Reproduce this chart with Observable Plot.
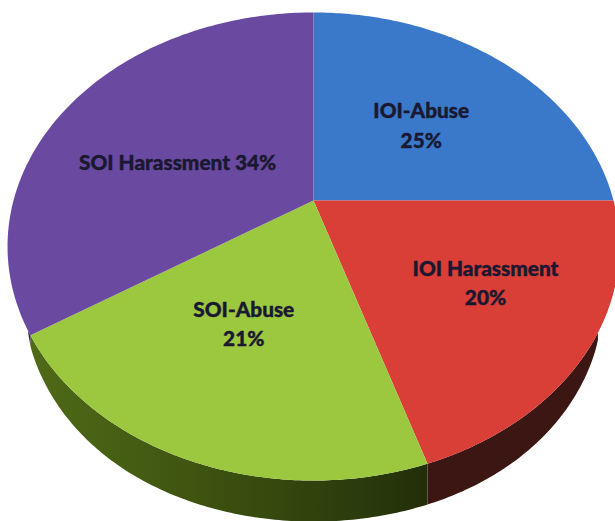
<!DOCTYPE html>
<html>
<head>
<meta charset="utf-8">
<script src="https://cdn.jsdelivr.net/npm/d3@7"></script>
<script src="https://cdn.jsdelivr.net/npm/@observablehq/plot@0.6"></script>
<style>
  html, body { margin: 0; padding: 0; background: #fff; }
  svg { display: block; }
</style>
</head>
<body>
<div id="chart"></div>
<script>
// Complaint categories and their share of the total, clockwise from twelve o'clock.
const categories = ["IOI-Abuse", "IOI Harassment", "SOI-Abuse", "SOI Harassment"];
const shares = [25, 20, 21, 34];
const labelBreaks = ["\n", "\n", "\n", " "];
const faceColors = ["#3a78ca", "#d93e37", "#9cc840", "#6a4aa0"];
const wallColors = ["#1b3a66", "#3b1613", "url(#wall-green)", "#352550"];

// Viewing geometry: the disc is a unit circle seen in perspective.
const width = 615, height = 521;
const centerX = 313, centerY = 200;
const radiusX = 300, radiusY = 225;
const tilt = 0.1966;
const wallDepth = 41;
const wallStart = 0.52;

const project = (u, v) => {
  const w = 1 + tilt * v;
  return { x: u / w, y: (radiusY / radiusX) * v / w };
};

// Wall height tapers to nothing where the rim turns out of view.
const wallDrop = (v) => {
  const t = Math.max(0, (-v - wallStart) / (1 - wallStart));
  return (wallDepth / radiusX) * Math.sqrt(1 - (1 - t) * (1 - t));
};

const total = d3.sum(shares);
const turns = d3.cumsum(shares).map((c) => c / total);
const slices = categories.map((category, i) => ({
  category,
  start: (i ? turns[i - 1] : 0) * 2 * Math.PI,
  end: turns[i] * 2 * Math.PI,
  mid: ((i ? turns[i - 1] : 0) + turns[i]) * Math.PI
}));

const arc = (s, n = 120) =>
  d3.range(n + 1).map((k) => {
    const a = s.start + ((s.end - s.start) * k) / n;
    return { u: Math.sin(a), v: Math.cos(a) };
  });

const faces = slices.flatMap((s) => [
  { category: s.category, ...project(0, 0) },
  ...arc(s).map(({ u, v }) => ({ category: s.category, ...project(u, v) }))
]);

const walls = slices.flatMap((s) => {
  const rim = arc(s).filter(({ v }) => -v >= wallStart);
  if (!rim.length) return [];
  const upper = rim.map(({ u, v }) => ({ category: s.category, ...project(u, v) }));
  const lower = rim
    .map(({ u, v }) => {
      const p = project(u, v);
      return { category: s.category, x: p.x, y: p.y - wallDrop(v) };
    })
    .reverse();
  return [...upper, ...lower];
});

// Label anchors sit on the disc, set by reach from the centre and a small turn off the mid-angle.
const labelReach = { "IOI-Abuse": 0.52, "IOI Harassment": 0.637, "SOI-Abuse": 0.543, "SOI Harassment": 0.498 };
const labelTurn = { "IOI-Abuse": 2.6, "IOI Harassment": -3, "SOI-Abuse": 2.9, "SOI Harassment": -8.8 };
const labels = slices.map((s, i) => {
  const a = s.mid + (labelTurn[s.category] * Math.PI) / 180;
  const r = labelReach[s.category];
  return {
    ...project(r * Math.sin(a), r * Math.cos(a)),
    text: `${s.category}${labelBreaks[i]}${shares[i]}%`
  };
});

const wallGradients = () => {
  const defs = d3.create("svg:defs");
  const g = defs.append("linearGradient").attr("id", "wall-green")
    .attr("x1", 0).attr("x2", 1).attr("y1", 0).attr("y2", 0);
  [[0, "#4f6a18"], [0.4, "#3f5510"], [0.85, "#2a3a0c"], [1, "#222e08"]]
    .forEach(([o, c]) => g.append("stop").attr("offset", o).attr("stop-color", c));
  return defs.node();
};

const chart = Plot.plot({
  width, height,
  margin: 0,
  x: { domain: [-centerX / radiusX, (width - centerX) / radiusX], axis: null },
  y: { domain: [(centerY - height) / radiusX, centerY / radiusX], axis: null },
  color: { domain: categories, range: faceColors },
  marks: [
    wallGradients,
    ...categories.map((c, i) =>
      Plot.line(walls.filter((d) => d.category === c), { x: "x", y: "y", stroke: "none", fill: wallColors[i] })
    ),
    Plot.line(faces, { x: "x", y: "y", z: "category", fill: "category", stroke: "none" }),
    Plot.text(labels, {
      x: "x", y: "y", text: "text",
      dy: -3,
      fontFamily: "Lato, 'Open Sans', sans-serif",
      fontWeight: 900,
      fontSize: 20.8,
      lineHeight: 1.4,
      fill: "#1a1830",
      stroke: "#1a1830",
      strokeWidth: 0.4
    })
  ]
});

document.getElementById("chart").append(chart);
</script>
</body>
</html>
